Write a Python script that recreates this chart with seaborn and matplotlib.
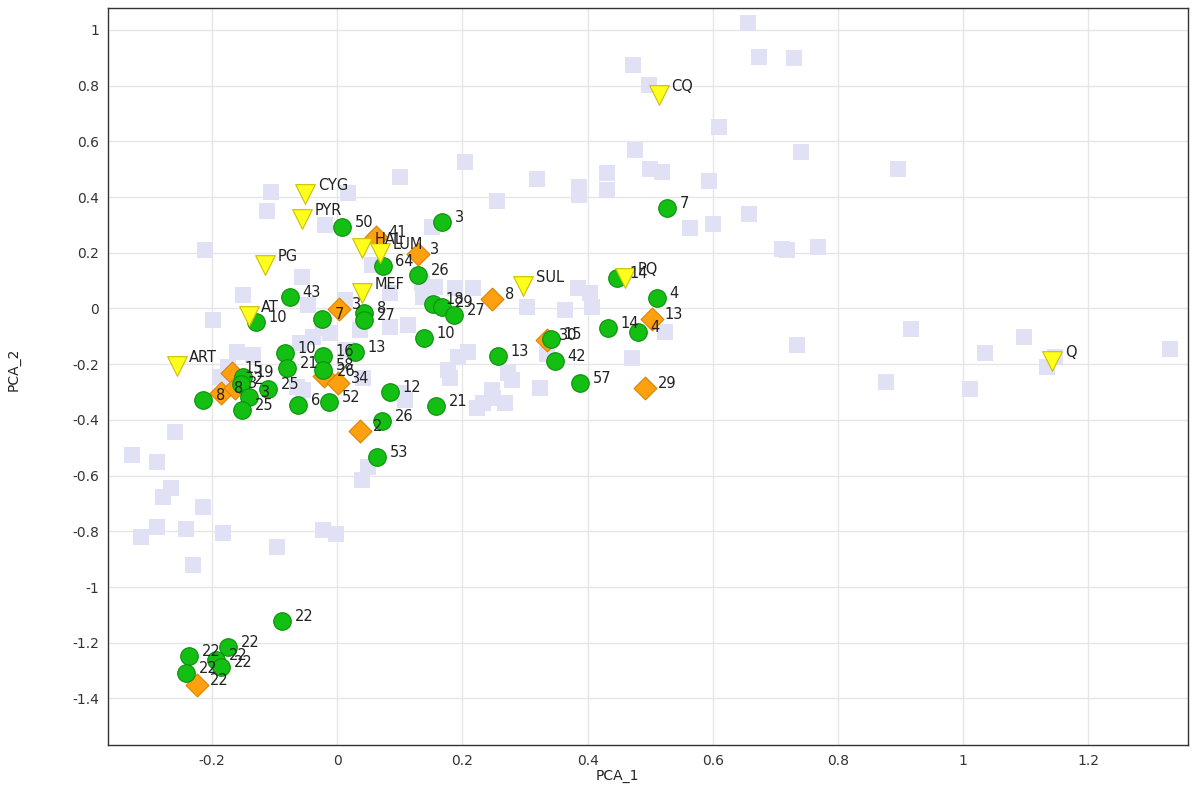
import matplotlib
matplotlib.use("Agg")
import matplotlib.pyplot as plt
import seaborn as sns
from matplotlib.ticker import MultipleLocator, FuncFormatter

# background compounds (no labels)
bg_x = [0.657, 0.674, 0.730, 0.473, 0.498, 0.610, 0.476, 0.741, 0.500, 0.519, 0.594, 0.896, 0.564, 0.601,
        0.658, 0.711, 0.719, 0.768, 0.524, 0.735, 0.917, 1.035, 1.097, 1.147, 1.134, 1.331, 0.877, 1.011,
        0.431, 0.431, 0.387, 0.387, 0.319, 0.256, 0.204, 0.101, 0.018, -0.105, -0.112, -0.211, 0.152, -0.019,
        0.056, -0.056, -0.150, -0.198, -0.046, 0.013, 0.137, 0.157, 0.188, 0.217, 0.136, 0.304, 0.364, 0.385,
        0.404, 0.407, 0.085, 0.085, 0.113, 0.037, -0.022, -0.038, -0.059, -0.011, 0.016, -0.160, -0.134, -0.174,
        -0.187, 0.042, -0.064, -0.054, 0.193, 0.209, 0.177, 0.181, 0.273, 0.280, 0.248, 0.249, 0.268, 0.224,
        0.233, 0.324, 0.335, 0.471, 0.101, 0.109,
        -0.259, -0.327, -0.288, -0.265, -0.278, -0.214, -0.288, -0.313, -0.241, -0.182, -0.230, -0.096,
        -0.022, -0.002, 0.040, 0.050]
bg_y = [1.025, 0.903, 0.899, 0.874, 0.803, 0.652, 0.569, 0.562, 0.501, 0.490, 0.458, 0.501, 0.289, 0.303,
        0.339, 0.214, 0.210, 0.221, -0.084, -0.131, -0.074, -0.160, -0.102, -0.174, -0.210, -0.145, -0.264, -0.289,
        0.487, 0.425, 0.436, 0.408, 0.465, 0.386, 0.526, 0.472, 0.415, 0.418, 0.350, 0.210, 0.293, 0.300,
        0.156, 0.113, 0.048, -0.041, 0.013, 0.031, 0.041, 0.077, 0.074, 0.074, 0.092, 0.005, -0.005, 0.074,
        0.056, 0.005, 0.056, -0.066, -0.059, -0.077, -0.070, -0.102, -0.124, -0.088, -0.149, -0.156, -0.167, -0.210,
        -0.246, -0.250, -0.282, -0.293, -0.174, -0.156, -0.221, -0.250, -0.232, -0.257, -0.293, -0.321, -0.339, -0.357,
        -0.339, -0.285, -0.163, -0.178, -0.303, -0.329,
        -0.443, -0.526, -0.551, -0.645, -0.677, -0.713, -0.785, -0.820, -0.792, -0.806, -0.921, -0.856,
        -0.795, -0.810, -0.616, -0.569]

# green circles
green_x = [0.527, 0.168, 0.008, 0.073, 0.129, -0.075, -0.129, -0.024, 0.043, 0.043,
           0.153, 0.168, 0.187, 0.139, 0.511, 0.433, 0.481, 0.447, 0.342, 0.348,
           0.257, 0.388, 0.085, 0.158, 0.072, 0.064, 0.029, -0.083, -0.080, -0.022,
           -0.022, -0.062, -0.013, -0.214, -0.150, -0.153, -0.141, -0.152, -0.110, -0.088,
           -0.174, -0.236, -0.193, -0.185, -0.241]
green_y = [0.361, 0.311, 0.293, 0.153, 0.120, 0.041, -0.049, -0.038, -0.016, -0.041,
           0.016, 0.005, -0.023, -0.106, 0.038, -0.070, -0.084, 0.110, -0.110, -0.189,
           -0.171, -0.268, -0.300, -0.350, -0.404, -0.533, -0.156, -0.160, -0.214, -0.171,
           -0.221, -0.346, -0.336, -0.329, -0.246, -0.271, -0.318, -0.364, -0.289, -1.122,
           -1.215, -1.248, -1.262, -1.287, -1.309]
green_labels = ["7", "3", "50", "64", "26", "43", "10", "7", "8", "27",
                "18", "29", "27", "10", "4", "14", "4", "14", "15", "42",
                "13", "57", "12", "21", "26", "53", "13", "10", "21", "16",
                "58", "6", "52", "8", "19", "2", "3", "25", "25", "22",
                "22", "22", "22", "22", "22"]

# orange diamonds
orange_x = [0.062, 0.129, 0.248, 0.003, 0.503, 0.492, 0.335, 0.037, -0.021, 0.002, -0.168, -0.185, -0.163, -0.224]
orange_y = [0.257, 0.196, 0.034, -0.002, -0.038, -0.285, -0.113, -0.440, -0.242, -0.268, -0.232, -0.303, -0.285, -1.352]
orange_labels = ["41", "3", "8", "3", "13", "29", "30", "2", "26", "34", "15", "8", "3", "22"]

# reference drugs (yellow triangles)
drug_x = [0.514, -0.051, -0.056, -0.115, -0.141, -0.256, 0.040, 0.040, 0.069, 0.297, 0.460, 1.142]
drug_y = [0.767, 0.411, 0.321, 0.156, -0.027, -0.206, 0.056, 0.217, 0.199, 0.081, 0.110, -0.189]
drug_labels = ["CQ", "CYG", "PYR", "PG", "AT", "ART", "MEF", "HAL", "LUM", "SUL", "PQ", "Q"]


def main():
    sns.set_style("whitegrid")
    plt.rcParams["font.family"] = ["DejaVu Sans"]
    plt.rcParams["axes.unicode_minus"] = False

    fig = plt.figure(figsize=(12, 7.96), dpi=100)
    ax = fig.add_axes([0.09, 0.0641, 0.9, 0.926])

    sns.scatterplot(x=bg_x, y=bg_y, marker="s", s=145, color="#E1E1F6",
                    linewidth=0, ax=ax, zorder=2)
    sns.scatterplot(x=orange_x, y=orange_y, marker="D", s=135, color="#FFA010",
                    edgecolor="#D98300", linewidth=0.8, ax=ax, zorder=3)
    sns.scatterplot(x=green_x, y=green_y, marker="o", s=160, color="#12BF12",
                    edgecolor="#0C8F0C", linewidth=0.8, ax=ax, zorder=4)
    sns.scatterplot(x=drug_x, y=drug_y, marker="v", s=200, color="#FFFF1E",
                    edgecolor="#CDBE00", linewidth=0.8, ax=ax, zorder=5)

    # point labels
    for xs, ys, labs, dy in [(orange_x, orange_y, orange_labels, 3),
                             (green_x, green_y, green_labels, 3),
                             (drug_x, drug_y, drug_labels, 6)]:
        for x, y, lab in zip(xs, ys, labs):
            ax.annotate(lab, (x, y), xytext=(9, dy), textcoords="offset points",
                        fontsize=10.5, color="#222222", va="center", ha="left", zorder=6)

    ax.set_xlim(-0.366, 1.359)
    ax.set_ylim(-1.567, 1.079)
    ax.xaxis.set_major_locator(MultipleLocator(0.2))
    ax.yaxis.set_major_locator(MultipleLocator(0.2))
    fmt = FuncFormatter(lambda v, _: "0" if abs(v) < 1e-9 else f"{round(v, 2):g}")
    ax.xaxis.set_major_formatter(fmt)
    ax.yaxis.set_major_formatter(fmt)
    ax.tick_params(labelsize=10, colors="#333333", length=3, width=0.8)

    ax.grid(True, color="#E6E6E6", linewidth=1)
    ax.set_axisbelow(True)
    for sp in ax.spines.values():
        sp.set_color("#333333")
        sp.set_linewidth(1)

    ax.set_xlabel("PCA_1", fontsize=10, color="#222222")
    ax.set_ylabel("PCA_2", fontsize=10, color="#222222")
    ax.xaxis.set_label_coords(0.472, -0.033)
    ax.yaxis.set_label_coords(-0.081, 0.509)

    fig.savefig("out.png", dpi=100)


if __name__ == "__main__":
    main()
